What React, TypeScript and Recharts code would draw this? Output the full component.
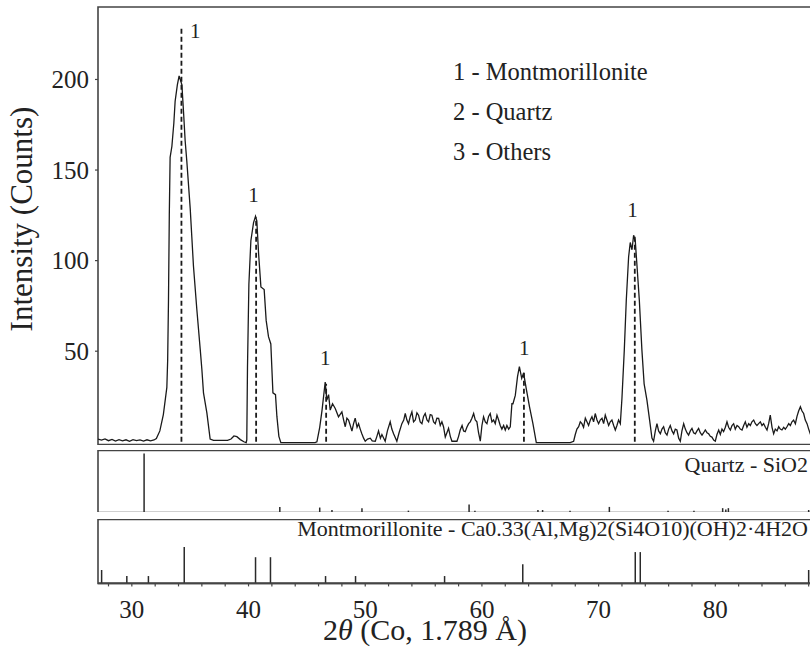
import { ComposedChart, Line, Scatter, XAxis, YAxis, ReferenceLine, ReferenceArea } from "recharts";

const SERIF = "'Liberation Serif', 'Times New Roman', serif";
const INK = "#222";
const FRAME = "#444";

// XRD scan, 2θ vs counts
const scanA = [
  [27.1, 1.5], [27.4, 0.9], [27.7, 1.6], [28.0, 0.6], [28.3, 1.3], [28.6, 0.4], [28.9, 1.2], [29.2, 0.5],
  [29.5, 1.1], [29.8, 0.3], [30.1, 1.2], [30.4, 0.6], [30.7, 1.0], [31.0, 0.4], [31.3, 1.1], [31.6, 0.5],
  [31.9, 1.0], [32.1, 1.8], [32.4, 6], [32.7, 15], [33.0, 30], [33.07, 45], [33.14, 78], [33.21, 125],
  [33.28, 157], [33.43, 163], [33.6, 176], [33.71, 188], [33.9, 197], [34.05, 202], [34.15, 200],
  [34.29, 197], [34.43, 182], [34.57, 166], [34.71, 155], [35.0, 129], [35.14, 113], [35.28, 97],
  [35.57, 73], [35.86, 51], [36.0, 40], [36.14, 27], [36.43, 16], [36.71, 1.5],
];

const scanB = [
  [37.0, 0.8], [37.6, 0.8], [38.2, 0.8], [38.5, 1.5], [38.75, 3.2], [39.0, 2.8], [39.3, 1.2], [39.6, 0],
  [39.8, -0.5], [39.85, 1], [39.91, 41], [40.03, 87], [40.2, 111], [40.43, 121], [40.6, 124.5],
  [40.71, 122], [40.86, 104], [41.06, 85.5], [41.34, 84], [41.51, 67], [41.71, 58], [41.91, 54],
  [42.09, 27], [42.31, 26], [42.43, 14], [42.6, 3], [42.77, -0.5], [43.5, -0.5], [44.5, -0.5], [45.7, -0.5],
];

const scanC = [
  [45.86, 0], [46.1, 8], [46.3, 17.5], [46.57, 33], [46.71, 23], [46.86, 26], [47.0, 17.5], [47.2, 21],
  [47.43, 18.4], [47.71, 13.8], [48.0, 16.5], [48.15, 12], [48.29, 8.3], [48.43, 13], [48.57, 12],
  [48.72, 9], [48.86, 5.9], [49.0, 10], [49.14, 13], [49.3, 8], [49.43, 10], [49.57, 7], [49.71, 4.4],
  [49.86, 2], [50.0, 0.3], [50.2, 1.5], [50.43, 2], [50.6, 0.5], [50.86, 0.3], [51.0, 3], [51.14, 6],
  [51.3, 2], [51.43, 4], [51.71, 0.3], [51.9, 6], [52.14, 11], [52.28, 7], [52.43, 4.4], [52.71, 0.3],
  [52.9, 5], [53.14, 10], [53.3, 12], [53.43, 15.6], [53.57, 12], [53.71, 10], [53.86, 14], [54.0, 16.5],
  [54.14, 11], [54.29, 12], [54.43, 16], [54.57, 14.7], [54.71, 11], [54.86, 10], [55.0, 14], [55.14, 15.6],
  [55.29, 12], [55.43, 11], [55.57, 15], [55.71, 14.7], [55.86, 11], [56.0, 10], [56.14, 13], [56.29, 12.9],
  [56.43, 9], [56.57, 11], [56.71, 8.3], [56.86, 2.6], [57.0, 5], [57.14, 7.4], [57.29, 3], [57.43, 0.3],
];

const scanD = [
  [57.86, 0.3], [58.0, 3], [58.14, 6.5], [58.3, 9], [58.43, 6], [58.57, 5.6], [58.71, 8], [58.86, 10],
  [59.0, 11], [59.14, 13], [59.29, 15.6], [59.43, 12], [59.57, 11], [59.71, 5], [59.86, 0.3], [60.0, 9],
  [60.14, 13.8], [60.29, 11], [60.43, 10], [60.57, 14], [60.71, 15.6], [60.86, 11], [61.0, 12], [61.14, 10],
  [61.29, 14.7], [61.43, 12], [61.57, 9], [61.71, 7], [61.86, 9], [62.0, 6.5], [62.14, 9], [62.29, 7],
  [62.43, 8.3], [62.57, 21], [62.66, 21], [62.86, 25.6], [63.05, 36], [63.21, 41.5], [63.41, 35],
  [63.57, 38], [63.79, 29.6], [64.07, 19.6], [64.37, 10], [64.66, -0.5], [65.5, -0.5], [66.5, -0.5],
  [67.57, -0.5], [67.86, 0.3], [68.0, 4], [68.14, 7], [68.29, 8.3], [68.43, 11], [68.57, 10], [68.71, 8],
  [68.86, 13], [69.0, 11], [69.14, 9], [69.29, 12], [69.43, 13.8], [69.57, 11], [69.71, 15.6], [69.86, 12],
  [70.0, 10], [70.14, 12], [70.29, 13], [70.43, 10], [70.57, 14.7], [70.71, 12], [70.86, 9], [71.0, 11],
  [71.14, 12], [71.29, 9], [71.43, 6.5], [71.57, 9], [71.71, 12], [71.86, 10], [72.0, 24], [72.2, 50.6],
  [72.37, 78], [72.57, 102], [72.71, 110], [72.86, 106], [73.0, 114], [73.14, 111], [73.29, 97],
  [73.49, 78], [73.71, 50.6], [73.9, 32], [74.14, 23], [74.37, 12], [74.57, 2], [74.71, 0.3],
];

const scanE = [
  [74.86, 6], [75.0, 10], [75.14, 6], [75.29, 4.4], [75.43, 7], [75.57, 8.3], [75.71, 5], [75.86, 3.7],
  [76.0, 7], [76.14, 9], [76.29, 6], [76.43, 4.4], [76.57, 7], [76.71, 6.5], [76.86, 2], [77.0, 0.3],
  [77.14, 6], [77.29, 10], [77.43, 7], [77.57, 5], [77.71, 3.7], [77.86, 6], [78.0, 7.4], [78.14, 5],
  [78.29, 4.4], [78.43, 6], [78.57, 7.4], [78.71, 5], [78.86, 3.7], [79.0, 5], [79.14, 6.5], [79.29, 5],
  [79.43, 4.4], [79.57, 3], [79.71, 2.6], [79.86, 1], [80.0, 0.3], [80.14, 4], [80.29, 6.5], [80.43, 4],
  [80.57, 7], [80.71, 5.6], [80.86, 8], [81.0, 11], [81.14, 8], [81.29, 6.5], [81.43, 9], [81.57, 10],
  [81.71, 7], [81.86, 9], [82.0, 8.3], [82.14, 7], [82.29, 6.5], [82.43, 9], [82.57, 11], [82.71, 8],
  [82.86, 10], [83.0, 9], [83.14, 11], [83.29, 12], [83.43, 10], [83.57, 9], [83.71, 10], [83.86, 11],
  [84.0, 9], [84.14, 10], [84.29, 8], [84.43, 6.5], [84.57, 10], [84.71, 14.7], [84.86, 8], [85.0, 4.4],
  [85.14, 7], [85.29, 6], [85.43, 8.3], [85.57, 7], [85.71, 6.5], [85.86, 8], [86.0, 7], [86.14, 8.3],
  [86.29, 10], [86.43, 9], [86.57, 11], [86.71, 12], [86.86, 10], [87.0, 14], [87.14, 17], [87.29, 19.3],
  [87.43, 17], [87.57, 15.6], [87.71, 12], [87.86, 10], [88.0, 7], [88.14, 4.4], [88.25, 6],
];

// dashed peak markers (montmorillonite), x and top in counts
const peakMarkX = [34.25, 40.65, 46.65, 63.6, 73.1];
const peakMarkTop = [228, 124, 32, 39, 114];

// "1" labels above peaks
const peakLabelX = [35.43, 40.42, 46.57, 63.63, 72.9];
const peakLabelY = [227, 136, 46.5, 51.5, 127.8];

// reference patterns, relative intensity (0-100 of panel height)
const quartzX = [31.05, 42.68, 46.1, 47.15, 49.72, 53.7, 58.9, 59.4, 64.8, 65.2, 67.55, 70.92, 75.95, 78.17, 80.63, 80.9, 81.12, 88.0];
const quartzI = [95, 9, 8, 4, 7, 3, 13, 3, 4, 4, 3, 9, 3, 3, 7, 5, 7, 4];

const montX = [27.41, 29.57, 31.42, 34.49, 40.6, 41.88, 46.6, 49.17, 56.8, 63.5, 73.14, 73.57, 88.0];
const montI = [21, 11.5, 11.5, 57, 41, 41, 11.5, 11.5, 11.5, 30, 49, 49, 21];

const xTicks = [28, 30, 32, 34, 36, 38, 40, 42, 44, 46, 48, 50, 52, 54, 56, 58, 60, 62, 64, 66, 68, 70, 72, 74, 76, 78, 80, 82, 84, 86, 88];
const yTicks = [0, 50, 100, 150, 200];

const legendItems = ["1 - Montmorillonite", "2 - Quartz", "3 - Others"];

const X_DOMAIN: [number, number] = [27.1, 88.2];
const MAIN_Y: [number, number] = [-1.5, 240];

const scan = [...scanA, ...scanB, ...scanC, ...scanD, ...scanE].map(([x, y]) => ({ x, y }));
const peakLabels = peakLabelX.map((x, i) => ({ x, y: peakLabelY[i] }));
const quartz = quartzX.map((x, i) => ({ x, y: quartzI[i] }));
const mont = montX.map((x, i) => ({ x, y: montI[i] }));

function PeakLabel(props: any) {
  const { cx, cy } = props;
  if (cx == null || cy == null) return null;
  return (
    <text x={cx} y={cy + 7} textAnchor="middle" fontSize={21} fontFamily={SERIF} fill={INK}>
      1
    </text>
  );
}

function Frame({ y1, y2 }: { y1: number; y2: number }) {
  return (
    <ReferenceArea
      x1={X_DOMAIN[0]}
      x2={X_DOMAIN[1]}
      y1={y1}
      y2={y2}
      fill="none"
      fillOpacity={0}
      stroke={FRAME}
      strokeWidth={1.6}
      ifOverflow="visible"
    />
  );
}

function StickPanel({ data, top, height, withAxis }: { data: { x: number; y: number }[]; top: number; height: number; withAxis?: boolean }) {
  return (
    <div style={{ position: "absolute", left: 0, top }}>
      <ComposedChart width={811} height={height} data={data} margin={{ top: 0.5, right: 0, bottom: 0, left: 98 }}>
        <XAxis
          type="number"
          dataKey="x"
          domain={X_DOMAIN}
          allowDataOverflow
          hide={!withAxis}
          ticks={xTicks}
          interval={0}
          height={withAxis ? 40.6 : 0}
          tickSize={3}
          tickMargin={14}
          axisLine={{ stroke: FRAME, strokeWidth: 1.6 }}
          tickLine={{ stroke: FRAME, strokeWidth: 1.2 }}
          tick={{ fill: INK, fontSize: 25, fontFamily: SERIF }}
          tickFormatter={(v: number) => (v % 10 === 0 && v < 88 ? String(v) : "")}
        />
        <YAxis type="number" domain={[0, 100]} hide allowDataOverflow />
        <Frame y1={0} y2={100} />
        <ReferenceLine y={0} stroke={FRAME} strokeWidth={1.2} ifOverflow="visible" />
        {data.map((d) => (
          <ReferenceLine
            key={d.x}
            segment={[{ x: d.x, y: 0 }, { x: d.x, y: d.y }]}
            stroke="#2a2a2a"
            strokeWidth={1.5}
          />
        ))}
      </ComposedChart>
    </div>
  );
}

export default function App() {
  return (
    <div style={{ position: "absolute", left: 0, top: 0, width: 810, height: 666, overflow: "hidden", background: "#fff" }}>
      <div style={{ position: "absolute", left: 0, top: 0 }}>
        <ComposedChart width={811} height={445} data={scan} margin={{ top: 7, right: 0, bottom: 0.5, left: 0 }}>
          <XAxis type="number" dataKey="x" domain={X_DOMAIN} allowDataOverflow hide />
          <YAxis
            type="number"
            domain={MAIN_Y}
            allowDataOverflow
            ticks={yTicks}
            width={98}
            axisLine={false}
            tickSize={3}
            tickMargin={6}
            tickLine={{ stroke: FRAME, strokeWidth: 1.2 }}
            tick={{ fill: INK, fontSize: 25, fontFamily: SERIF }}
          />
          <Frame y1={MAIN_Y[0]} y2={MAIN_Y[1]} />
          <ReferenceLine y={-2.8} stroke={FRAME} strokeWidth={1.2} ifOverflow="visible" />
          {peakMarkX.map((x, i) => (
            <ReferenceLine
              key={x}
              segment={[{ x, y: 0 }, { x, y: peakMarkTop[i] }]}
              stroke="#1a1a1a"
              strokeWidth={1.8}
              strokeDasharray="5 3"
            />
          ))}
          <Line type="linear" dataKey="y" stroke="#1a1a1a" strokeWidth={1.3} dot={false} isAnimationActive={false} />
          <Scatter data={peakLabels} dataKey="y" shape={<PeakLabel />} isAnimationActive={false} />
        </ComposedChart>
      </div>

      <StickPanel data={quartz} top={449.5} height={62.5} />
      <StickPanel data={mont} top={519} height={105} withAxis />

      <svg width={810} height={666} style={{ position: "absolute", left: 0, top: 0, pointerEvents: "none" }}>
        <text
          transform="translate(31.7,219) rotate(-90)"
          textAnchor="middle"
          fontSize={31}
          fontFamily={SERIF}
          fill={INK}
        >
          Intensity (Counts)
        </text>
        {legendItems.map((t, i) => (
          <text key={t} x={453} y={79.6 + i * 40} fontSize={24.5} fontFamily={SERIF} fill={INK}>
            {t}
          </text>
        ))}
        <text x={808} y={472.3} textAnchor="end" fontSize={22} fontFamily={SERIF} fill={INK}>
          Quartz - SiO2
        </text>
        <text x={808} y={535.6} textAnchor="end" fontSize={22} fontFamily={SERIF} fill={INK}>
          Montmorillonite - Ca0.33(Al,Mg)2(Si4O10)(OH)2·4H2O
        </text>
        <text x={425} y={640} textAnchor="middle" fontSize={30} fontFamily={SERIF} fill={INK}>
          2<tspan fontStyle="italic">θ</tspan> (Co, 1.789 Å)
        </text>
      </svg>
    </div>
  );
}
